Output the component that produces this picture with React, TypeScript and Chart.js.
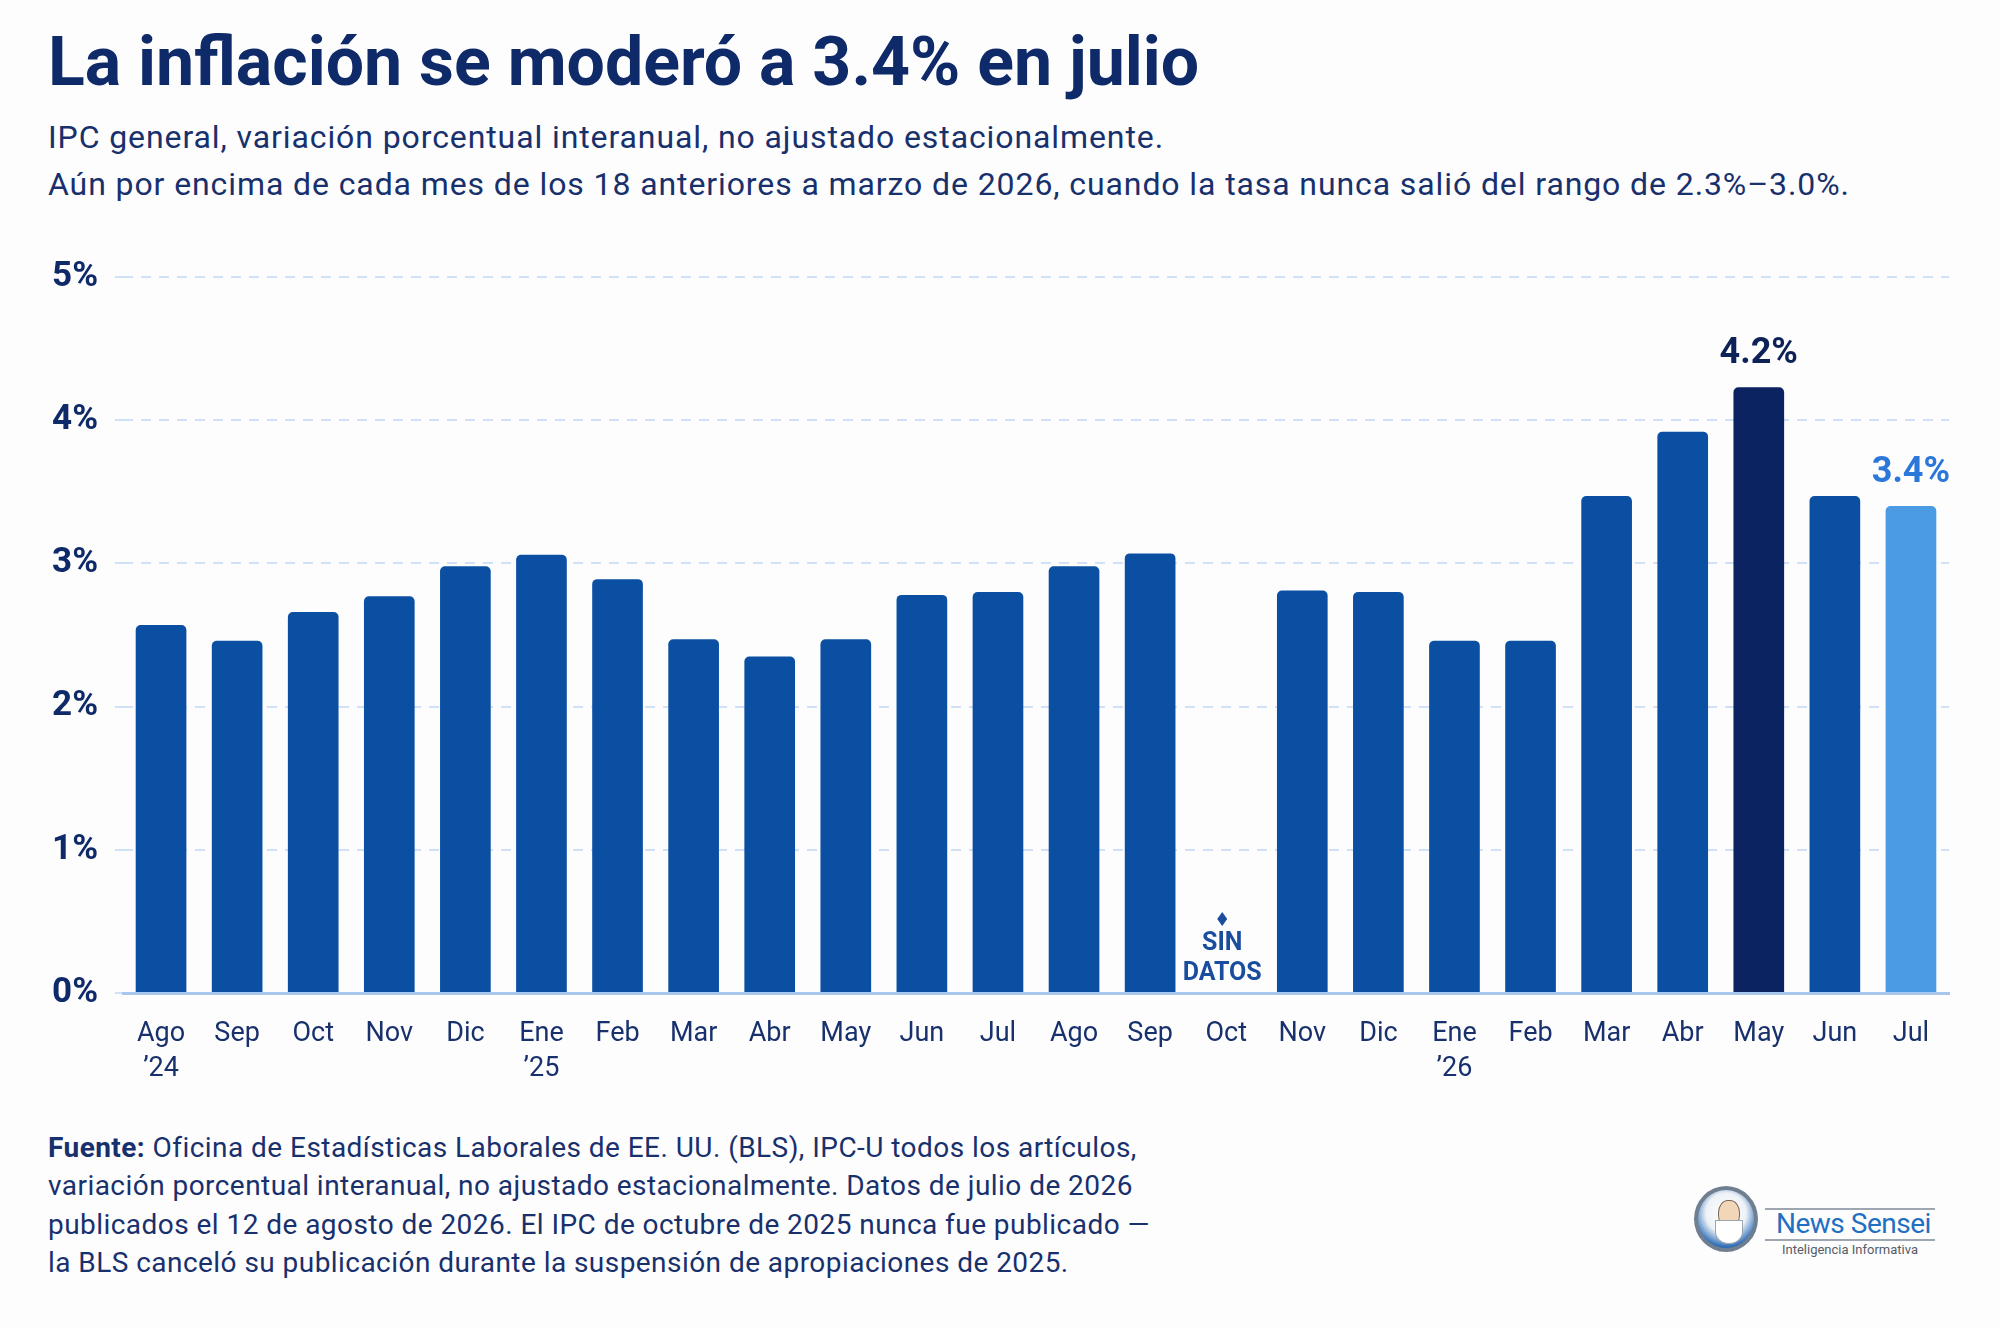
import React, { useEffect, useRef } from "react";
import { Chart, registerables } from "chart.js";

Chart.register(...registerables);

// ---------- DATA ----------
const monthLabels: (string | string[])[] = [
  ["Ago", "’24"], "Sep", "Oct", "Nov", "Dic", ["Ene", "’25"], "Feb", "Mar", "Abr", "May", "Jun", "Jul",
  "Ago", "Sep", "Oct", "Nov", "Dic", ["Ene", "’26"], "Feb", "Mar", "Abr", "May", "Jun", "Jul",
];
const cpiValues: (number | null)[] = [
  2.57, 2.46, 2.66, 2.77, 2.98, 3.06, 2.89, 2.47, 2.35, 2.47, 2.78, 2.8,
  2.98, 3.07, null, 2.81, 2.8, 2.46, 2.46, 3.47, 3.92, 4.23, 3.47, 3.4,
];
const yTickValues = [0, 1, 2, 3, 4, 5];
const peakIndex = 21;
const latestIndex = 23;
const labeledIndices = [21, 23];
const labelTexts = ["4.2%", "3.4%"];
const noDataIndex = 14;
const noDataLines = ["SIN", "DATOS"];

const titleText = "La inflación se moderó a 3.4% en julio";
const subtitleLines = [
  "IPC general, variación porcentual interanual, no ajustado estacionalmente.",
  "Aún por encima de cada mes de los 18 anteriores a marzo de 2026, cuando la tasa nunca salió del rango de 2.3%–3.0%.",
];
const sourceLead = "Fuente:";
const sourceLines = [
  " Oficina de Estadísticas Laborales de EE. UU. (BLS), IPC-U todos los artículos,",
  "variación porcentual interanual, no ajustado estacionalmente. Datos de julio de 2026",
  "publicados el 12 de agosto de 2026. El IPC de octubre de 2025 nunca fue publicado —",
  "la BLS canceló su publicación durante la suspensión de apropiaciones de 2025.",
];

// ---------- STYLE ----------
const FONT = "Roboto, 'Noto Sans', sans-serif";
const NAVY = "#0f2a68";
const TEXT = "#18306c";
const BAR = "#0b4fa3";
const BAR_PEAK = "#0b2360";
const BAR_LATEST = "#4a9be4";
const LABEL_PEAK = "#0d2358";
const LABEL_LATEST = "#2b78da";
const GRID = "#d0e1f7";

const barColors = cpiValues.map((_, i) =>
  i === peakIndex ? BAR_PEAK : i === latestIndex ? BAR_LATEST : BAR
);

const annotationPlugin = {
  id: "annotations",
  afterDatasetsDraw(chart: any) {
    const ctx = chart.ctx;
    const meta = chart.getDatasetMeta(0);
    const xScale = chart.scales.x;
    const yScale = chart.scales.y;
    ctx.save();
    ctx.textAlign = "center";
    ctx.textBaseline = "alphabetic";
    labeledIndices.forEach((idx, k) => {
      const el = meta.data[idx];
      if (!el) return;
      ctx.font = `bold 36px ${FONT}`;
      ctx.fillStyle = idx === peakIndex ? LABEL_PEAK : LABEL_LATEST;
      ctx.fillText(labelTexts[k], el.x, el.y - 24);
    });
    // no-data annotation
    const x = xScale.getPixelForValue(noDataIndex) - 4;
    const base = yScale.getPixelForValue(0);
    ctx.fillStyle = "#1b4d9e";
    ctx.font = `bold 25px ${FONT}`;
    ctx.fillText(noDataLines[0], x, base - 43);
    ctx.fillText(noDataLines[1], x, base - 13);
    // small diamond marker
    const dy = base - 74;
    ctx.beginPath();
    ctx.moveTo(x, dy - 7);
    ctx.lineTo(x + 5, dy);
    ctx.lineTo(x, dy + 7);
    ctx.lineTo(x - 5, dy);
    ctx.closePath();
    ctx.fill();
    ctx.restore();
  },
};

function Logo() {
  return (
    <div style={{ position: "absolute", left: 1692, top: 1184, width: 250, height: 85 }}>
      <div
        style={{
          position: "absolute", left: 2, top: 2, width: 64, height: 66, borderRadius: "50%",
          border: "4px solid #6f7f90", background: "radial-gradient(circle at 50% 40%, #ffffff 0%, #eef2f7 45%, #2f6fb8 75%, #1d4f8f 100%)",
          boxSizing: "border-box",
        }}
      >
        <div style={{ position: "absolute", left: 20, top: 10, width: 20, height: 26, borderRadius: "45%", background: "#f2d6b8", border: "1px solid #7a6a5a" }} />
        <div style={{ position: "absolute", left: 17, top: 30, width: 26, height: 22, borderRadius: "0 0 50% 50%", background: "#ffffff", border: "1px solid #9aa5b0" }} />
      </div>
      <div style={{ position: "absolute", left: 73, top: 24, width: 170, height: 2, background: "#9ea7b1" }} />
      <div style={{ position: "absolute", left: 84, top: 25, fontFamily: FONT, fontSize: 28, lineHeight: "30px", color: "#1f70c2", letterSpacing: -0.5 }}>News Sensei</div>
      <div style={{ position: "absolute", left: 73, top: 55, width: 170, height: 2, background: "#9ea7b1" }} />
      <div style={{ position: "absolute", left: 73, top: 58, width: 170, textAlign: "center", fontFamily: FONT, fontSize: 13, lineHeight: "16px", color: "#555c66" }}>Inteligencia Informativa</div>
    </div>
  );
}

export default function App() {
  const ref = useRef<HTMLCanvasElement | null>(null);

  useEffect(() => {
    document.body.style.margin = "0";
    const canvas = ref.current;
    if (!canvas) return;
    const chart = new Chart(canvas, {
      type: "bar",
      data: {
        labels: monthLabels,
        datasets: [
          {
            data: cpiValues,
            backgroundColor: barColors,
            borderRadius: 5,
            borderSkipped: "start",
            barPercentage: 0.666,
            categoryPercentage: 1,
          },
        ],
      },
      options: {
        responsive: false,
        animation: false,
        devicePixelRatio: 1,
        layout: { padding: { top: 47, right: 51, left: 0, bottom: 0 } },
        plugins: { legend: { display: false }, tooltip: { enabled: false } },
        scales: {
          x: {
            grid: { display: false },
            border: { display: true, color: "#a9c7ec", width: 3 },
            ticks: {
              color: TEXT,
              font: { family: FONT, size: 27, lineHeight: 1.3 },
              padding: 16,
              maxRotation: 0,
              autoSkip: false,
            },
            afterFit: (s: any) => {
              s.height = 117;
            },
          },
          y: {
            min: 0,
            max: 5,
            afterBuildTicks: (s: any) => {
              s.ticks = yTickValues.map((v) => ({ value: v }));
            },
            ticks: {
              color: NAVY,
              font: { family: FONT, size: 35, weight: "bold" },
              padding: 17,
              callback: (v: any) => `${v}%`,
            },
            grid: {
              color: GRID,
              lineWidth: 2,
              drawTicks: true,
              tickLength: 8,
              tickColor: GRID,
              tickBorderDash: [10, 8],
            },
            border: { display: false, dash: [10, 8] },
            afterFit: (s: any) => {
              s.width = 123;
            },
          },
        },
      },
      plugins: [annotationPlugin],
    } as any);
    return () => chart.destroy();
  }, []);

  return (
    <div style={{ position: "absolute", left: 0, top: 0, width: 2000, height: 1328, background: "#fdfdfe", overflow: "hidden" }}>
      <div style={{ position: "absolute", left: 48, top: 28, fontFamily: FONT, fontWeight: 700, fontSize: 68, lineHeight: "68px", color: NAVY, letterSpacing: 0, whiteSpace: "nowrap" }}>
        {titleText}
      </div>
      <div style={{ position: "absolute", left: 48, top: 114, fontFamily: FONT, fontSize: 32, lineHeight: "47px", color: TEXT, letterSpacing: 0.9, whiteSpace: "nowrap" }}>
        {subtitleLines.map((l, i) => (
          <div key={i}>{l}</div>
        ))}
      </div>
      <canvas ref={ref} width={2000} height={880} style={{ position: "absolute", left: 0, top: 230, width: 2000, height: 880 }} />
      <div style={{ position: "absolute", left: 48, top: 1129, fontFamily: FONT, fontSize: 28, lineHeight: "38.3px", color: TEXT, letterSpacing: 0.45, whiteSpace: "nowrap" }}>
        {sourceLines.map((l, i) => (
          <div key={i}>
            {i === 0 && <span style={{ fontWeight: 700 }}>{sourceLead}</span>}
            {l}
          </div>
        ))}
      </div>
      <Logo />
    </div>
  );
}
